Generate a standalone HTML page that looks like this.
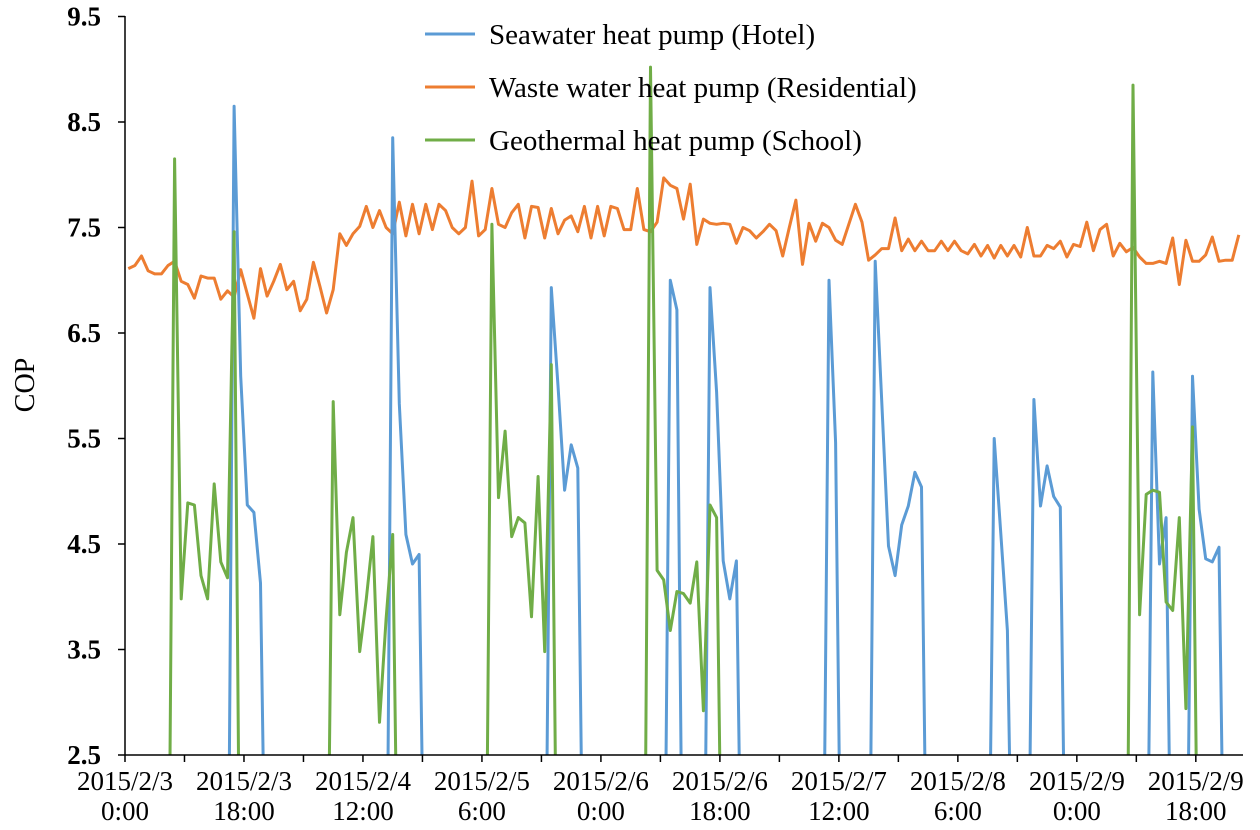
<!DOCTYPE html>
<html><head><meta charset="utf-8"><style>
html,body{margin:0;background:#fff;width:1260px;height:830px;overflow:hidden;}
svg{display:block;font-family:"Liberation Serif",serif;}
</style></head><body>
<svg id="chart" width="1260" height="830" viewBox="0 0 1260 830" xmlns="http://www.w3.org/2000/svg">
<defs><clipPath id="plotclip"><rect x="125" y="10" width="1120" height="745"/></clipPath></defs>
<g id="series" clip-path="url(#plotclip)"></g>
<g id="axes"></g>
<text x="0" y="0" transform="translate(34,385) rotate(-90)" text-anchor="middle" font-size="28">COP</text>
<g>
<g><line x1="425" y1="34" x2="475" y2="34" stroke="#5B9BD5" stroke-width="3"/><text x="489" y="44" font-size="29">Seawater heat pump (Hotel)</text></g>
<g><line x1="425" y1="87" x2="475" y2="87" stroke="#ED7D31" stroke-width="3"/><text x="489" y="97" font-size="29">Waste water heat pump (Residential)</text></g>
<g><line x1="425" y1="140" x2="475" y2="140" stroke="#70AD47" stroke-width="3"/><text x="489" y="150" font-size="29">Geothermal heat pump (School)</text></g>
</g>
</svg>
<script>
const yTicks=[2.5,3.5,4.5,5.5,6.5,7.5,8.5,9.5];
const xLabels=[["2015/2/3","0:00"],["2015/2/3","18:00"],["2015/2/4","12:00"],["2015/2/5","6:00"],["2015/2/6","0:00"],["2015/2/6","18:00"],["2015/2/7","12:00"],["2015/2/8","6:00"],["2015/2/9","0:00"],["2015/2/9","18:00"]];
const orangeValues=[7.11,7.14,7.23,7.09,7.06,7.06,7.14,7.18,6.99,6.96,6.83,7.04,7.02,7.02,6.82,6.90,6.84,7.10,6.87,6.64,7.11,6.85,6.99,7.15,6.91,6.99,6.71,6.82,7.17,6.94,6.69,6.91,7.44,7.33,7.44,7.51,7.70,7.50,7.66,7.50,7.44,7.74,7.42,7.72,7.44,7.72,7.48,7.72,7.66,7.50,7.44,7.50,7.94,7.42,7.48,7.87,7.53,
7.50,7.64,7.72,7.40,7.70,7.69,7.40,7.68,7.44,7.57,7.61,7.46,7.70,7.40,7.70,7.42,7.70,7.68,7.48,7.48,7.87,7.48,7.46,7.55,7.97,7.90,7.87,7.58,7.91,7.34,7.58,7.54,7.53,7.54,7.53,7.35,7.50,7.47,7.40,7.46,7.53,7.47,7.23,7.50,7.76,7.15,7.54,7.37,7.54,7.50,7.38,7.34,7.53,7.72,
7.55,7.19,7.24,7.30,7.30,7.59,7.28,7.39,7.28,7.37,7.28,7.28,7.37,7.28,7.37,7.28,7.25,7.34,7.23,7.33,7.21,7.33,7.23,7.33,7.22,7.50,7.23,7.23,7.33,7.30,7.37,7.22,7.34,7.32,7.55,7.28,7.48,7.53,7.23,7.35,7.27,7.31,7.22,7.16,7.16,7.18,7.16,7.40,6.96,7.38,7.18,7.18,7.24,7.41,7.18,7.19,7.19,7.43];
const blueHours=[0,15,16,17,18,19,20,21,39,40,41,42,43,44,45,63,64,65,66,67,68,69,81,82,83,84,87,88,89,90,91,92,93,105,106,107,108,112,113,115,116,117,118,119,120,121,130,131,132,133,134,136,137,138,139,140,141,142,154,155,156,157,158,160,161,162,163,164,165,166,168];
const blueValues=[0,0,8.65,6.09,4.87,4.80,4.13,0,0,8.35,5.83,4.59,4.31,4.40,0,0,6.93,6.0,5.01,5.44,5.22,0,0,7.0,6.72,0,0,6.93,5.94,4.34,3.98,4.34,0,0,7.0,5.46,0,0,7.18,4.48,4.2,4.68,4.86,5.18,5.04,0,0,5.5,4.6,3.68,0,0,5.87,4.86,5.24,4.95,4.85,0,0,6.13,4.31,4.75,0,0,6.09,4.83,4.36,4.33,4.47,0,0];
const greenHours=[0,6,7,8,9,10,11,12,13,14,15,16,17,30,31,32,33,34,35,36,37,38,39,40,41,54,55,56,57,58,59,60,61,62,63,64,65,78,79,80,81,82,83,84,85,86,87,88,89,90,151,152,153,154,155,156,157,158,159,160,161,162,168];
const greenValues=[0,0,8.15,3.98,4.89,4.87,4.2,3.98,5.07,4.33,4.18,7.46,0,0,5.85,3.83,4.42,4.75,3.48,3.98,4.57,2.81,3.79,4.59,0,0,7.53,4.94,5.57,4.57,4.75,4.70,3.81,5.14,3.48,6.2,0,0,9.02,4.25,4.16,3.68,4.05,4.03,3.94,4.33,2.92,4.87,4.75,0,0,8.85,3.83,4.97,5.01,4.99,3.95,3.87,4.75,2.94,5.61,0,0];

const NS="http://www.w3.org/2000/svg";
const X0=128.3, PXH=6.61, YB=755, YU=105.5;
function xScale(h){return X0+PXH*h;}
function yScale(v){return YB-(v-2.5)*YU;}
const series=document.getElementById('series');
const axes=document.getElementById('axes');
function mk(tag,attrs,parent){const e=document.createElementNS(NS,tag);for(const k in attrs)e.setAttribute(k,attrs[k]);parent.appendChild(e);return e;}
function drawLine(hours,vals,color,name){
  const d=vals.map((v,i)=>(i?'L':'M')+xScale(hours[i]).toFixed(1)+' '+yScale(v).toFixed(1)).join(' ');
  const p=mk('path',{d:d,fill:'none',stroke:color,'stroke-width':3,'stroke-linejoin':'round'},series);
  
  
}
drawLine(orangeValues.map((v,i)=>i),orangeValues,'#ED7D31','wastewater-line');
drawLine(blueHours,blueValues,'#5B9BD5','seawater-line');
drawLine(greenHours,greenValues,'#70AD47','geothermal-line');

const ya=mk('line',{x1:125,y1:16,x2:125,y2:YB,stroke:'#000','stroke-width':1.5},axes);


const xa=mk('line',{x1:125,y1:YB,x2:1243,y2:YB,stroke:'#000','stroke-width':1.5},axes);


yTicks.forEach(t=>{
  const y=yScale(t);
  mk('line',{x1:118,y1:y,x2:125,y2:y,stroke:'#000','stroke-width':1.5},axes);
  const tx=mk('text',{x:101,y:y+9,'text-anchor':'end','font-size':27,'font-weight':'bold'},axes);
  tx.textContent=t.toFixed(1);
  
  
});
for(let k=0;k<19;k++){
  const x=xScale(-0.5+9*k);
  if(x>1243)break;
  mk('line',{x1:x,y1:YB,x2:x,y2:YB+7,stroke:'#000','stroke-width':1.5},axes);
}
xLabels.forEach((l,k)=>{
  const x=xScale(-0.5+18*k);
  const tx=mk('text',{x:x,y:790,'text-anchor':'middle','font-size':27},axes);
  tx.textContent=l[0];
  
  
  const t2=mk('text',{x:x,y:820,'text-anchor':'middle','font-size':27},axes);
  t2.textContent=l[1];
  
  
});
</script>
</body></html>
